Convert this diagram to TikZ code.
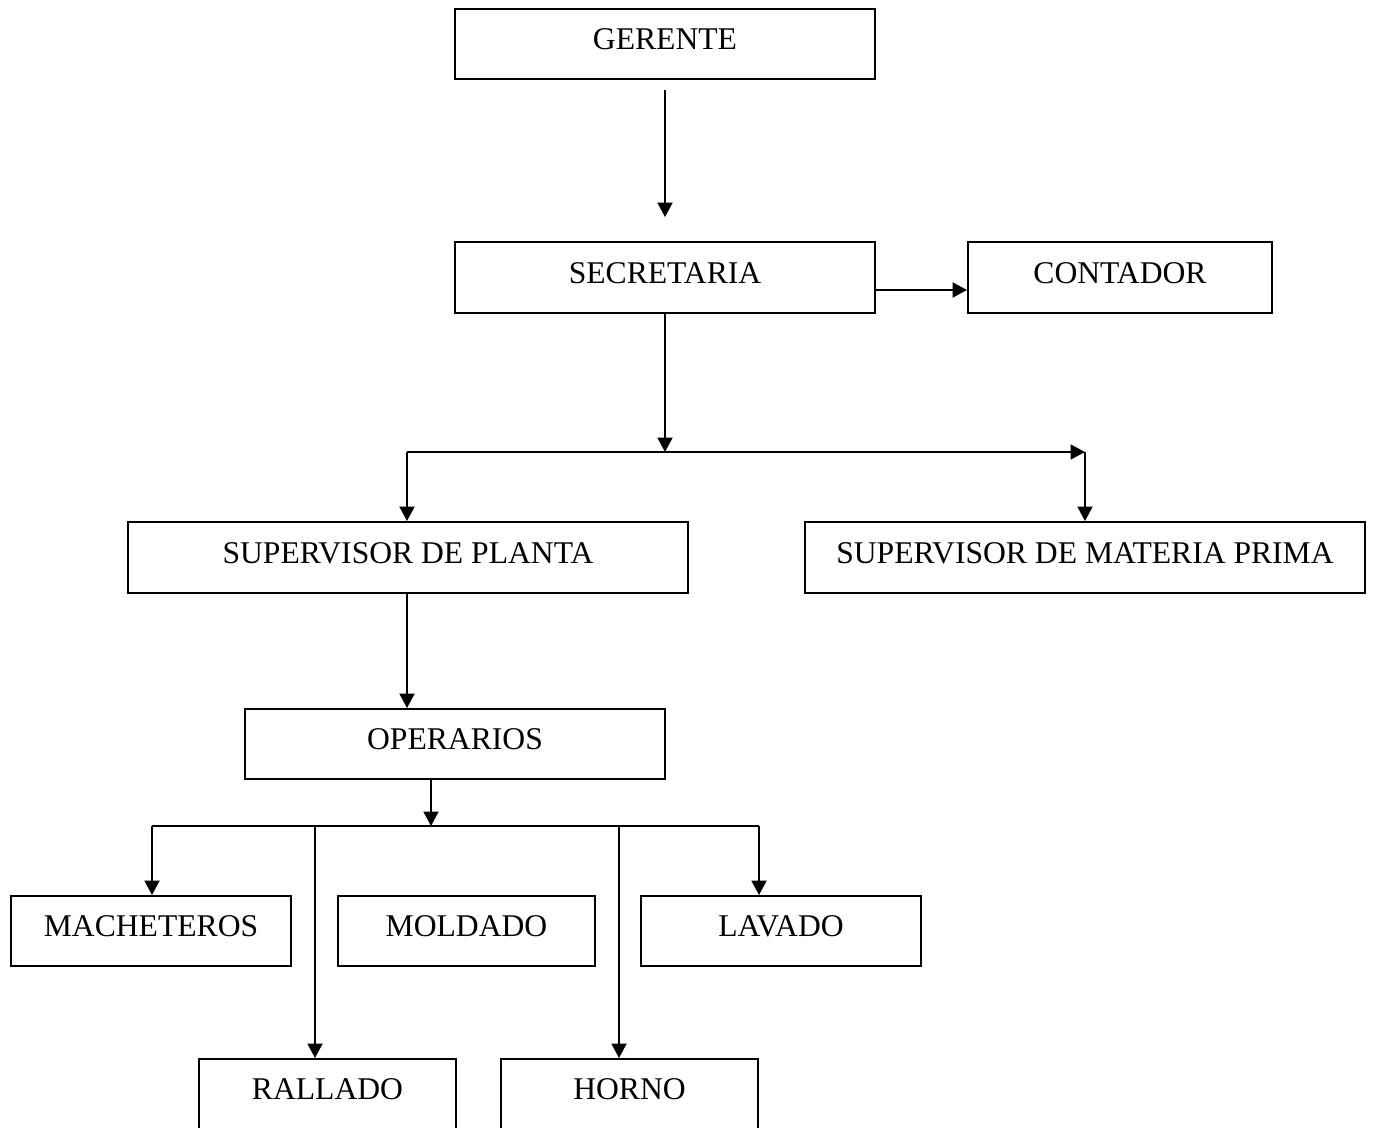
\documentclass[tikz,border=0pt]{standalone}
\usepackage{fontspec}
\setmainfont{Liberation Serif}
\usetikzlibrary{arrows.meta}
\begin{document}
\begin{tikzpicture}
[boxdecorate/.style={shape=rectangle,draw,line width=1.1pt,inner sep=0pt,
   text height=12pt,text depth=5.7pt,
   font=\fontsize{18pt}{21pt}\selectfont},%
  arrowdecorate/.style={-{Triangle[length=0.29cm,width=0.3cm]},line width=1.1pt},%
  linedecorate/.style={-,line width=1.1pt},%
  x=0.02cm,y=-0.02cm]
\clip (0,0) rectangle (1375,1127);
%% boxes
\foreach \nodename/\x/\y/\w/\h/\label in {
  gerente/665/44/420/70/GERENTE,
  secretaria/665/277.5/420/71/SECRETARIA,
  contador/1120/277.5/304/71/CONTADOR,
  supplanta/408/557.5/560/71/SUPERVISOR DE PLANTA,
  supmateria/1085/557.5/560/71/SUPERVISOR DE MATERIA PRIMA,
  operarios/455/744/420/70/OPERARIOS,
  macheteros/151/931/280/70/MACHETEROS,
  moldado/466.5/931/257/70/MOLDADO,
  lavado/781/931/280/70/LAVADO,
  rallado/327.5/1094/257/70/RALLADO,
  horno/629.5/1094/257/70/HORNO}
{
  \node (\nodename) at (\x,\y) [boxdecorate,minimum width=\w*0.02cm,
    minimum height=\h*0.02cm] {\label};
}
%% junctions
\foreach \nodename/\x/\y in {
  junta/665/452, juntaizq/407/452, juntader/1085/452,
  rama/431/826, ramaizq/152/826, ramader/759/826,
  ramarallado/315/826, ramahorno/619/826}
{
  \coordinate (\nodename) at (\x,\y);
}
%% connectors
\draw[arrowdecorate,shorten <=0.2cm,shorten >=0.48cm] (gerente) -- (secretaria);
\draw[arrowdecorate] (secretaria.east |- 0,290) -- (contador.west |- 0,290);
\draw[arrowdecorate] (secretaria.south) -- (junta);
\draw[arrowdecorate] (juntaizq) -- (juntader);
\draw[arrowdecorate] (juntaizq) -- (juntaizq |- supplanta.north);
\draw[arrowdecorate] (juntader) -- (juntader |- supmateria.north);
\draw[arrowdecorate] (supplanta.south -| juntaizq) -- (juntaizq |- operarios.north);
\draw[arrowdecorate] (operarios.south -| rama) -- (rama);
\draw[linedecorate] (ramaizq) -- (ramader);
\foreach \startnode/\endnode in {ramaizq/macheteros, ramader/lavado,
  ramarallado/rallado, ramahorno/horno}
{
  \draw[arrowdecorate] (\startnode) -- (\startnode |- \endnode.north);
}
\end{tikzpicture}
\end{document}
